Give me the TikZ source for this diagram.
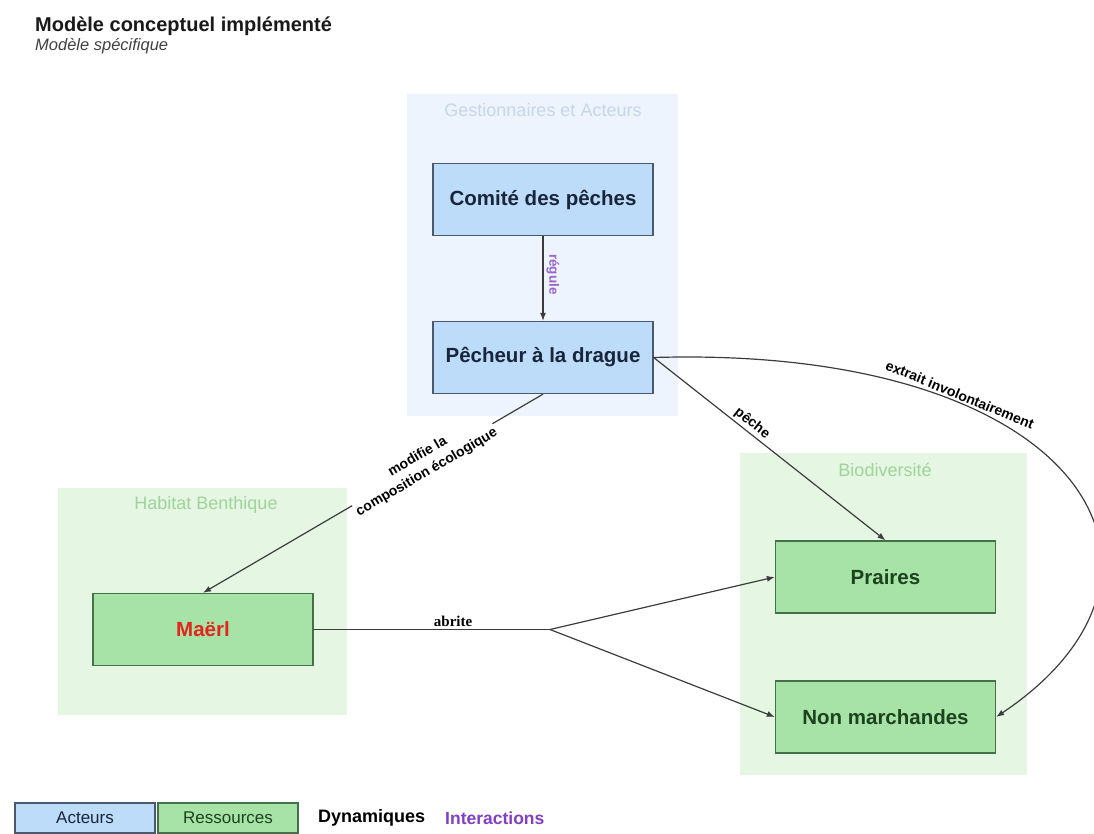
\documentclass[tikz,border=0pt]{standalone}
\usepackage{fontspec}
\setmainfont{Liberation Sans}
\newfontfamily\serifbold{Liberation Serif}
\usetikzlibrary{arrows.meta}

\definecolor{grpblue}{HTML}{EEF4FD}
\definecolor{grpbluetxt}{HTML}{C6D5EA}
\definecolor{grpgreen}{HTML}{E5F6E3}
\definecolor{grpgreentxt}{HTML}{9FD39A}
\definecolor{boxblue}{HTML}{BDDCFA}
\definecolor{boxblueline}{HTML}{4A5870}
\definecolor{boxgreen}{HTML}{A7E3A7}
\definecolor{boxgreenline}{HTML}{44704A}
\definecolor{txtblue}{HTML}{18253A}
\definecolor{txtgreen}{HTML}{1C421E}
\definecolor{linkgray}{HTML}{3C3C3C}
\definecolor{interpurple}{HTML}{8040C0}
\definecolor{maerlred}{HTML}{E3231C}

\begin{document}
\begin{tikzpicture}[x=1pt,y=-1pt,
  acteur/.style={draw=boxblueline, fill=boxblue, line width=1.3pt, text=txtblue,
    minimum width=220, minimum height=72, font=\bfseries\fontsize{20.5}{24}\selectfont},
  ressource/.style={draw=boxgreenline, fill=boxgreen, line width=1.3pt, text=txtgreen,
    minimum width=220, minimum height=72, font=\bfseries\fontsize{20.5}{24}\selectfont},
  groupe/.style={inner sep=0pt},
  grouptitle/.style={font=\fontsize{18}{21}\selectfont},
  link/.style={draw=linkgray, line width=1.2pt, -{Latex[length=8pt,width=6pt]}},
  linklabel/.style={font=\bfseries\fontsize{14}{17}\selectfont, text=black, inner sep=2pt},
  legendbox/.style={line width=1.2pt, minimum width=140, minimum height=30,
    font=\fontsize{17}{20}\selectfont, text=txtblue}]
\useasboundingbox (0,0) rectangle (1094,834);

% titre
\node[anchor=base west, inner sep=0pt, font=\bfseries\fontsize{20}{23}\selectfont, text=black!90] (titre) at (35,32) {Modèle conceptuel implémenté};
\node[anchor=base west, inner sep=0pt, font=\itshape\fontsize{16.5}{19}\selectfont, text=black!75] (soustitre) at (35,51) {Modèle spécifique};

% groupes
\node[groupe, fill=grpblue, minimum width=271, minimum height=322] (gestion) at (542.5,255) {};
\node[grouptitle, text=grpbluetxt] (gestiontitre) at (543,110) {Gestionnaires et Acteurs};
\node[groupe, fill=grpgreen, minimum width=289, minimum height=227] (habitat) at (202.5,601.5) {};
\node[grouptitle, text=grpgreentxt] (habitattitre) at (206,505) {Habitat Benthique};
\node[groupe, fill=grpgreen, minimum width=287, minimum height=322] (biodiv) at (883.5,614) {};
\node[grouptitle, text=grpgreentxt] (biodivtitre) at (885,470) {Biodiversité};

% acteurs et ressources
\node[acteur] (comite) at (543,199.5) {Comité des pêches};
\node[acteur] (pecheur) at (543,357.5) {Pêcheur à la drague};
\node[ressource, text=maerlred] (maerl) at (203,629.5) {Maërl};
\node[ressource] (prairies) at (885.5,577) {Praires};
\node[ressource] (nonmarch) at (885.5,717) {Non marchandes};
\coordinate (split) at (550,629.5);

% liens
\draw[link] (comite) -- (pecheur) node[pos=0.45, xshift=10, rotate=-90, font=\bfseries\fontsize{13.5}{14}\selectfont, text=interpurple!80] (regule) {régule};
\path (pecheur.south) -- (maerl.north) node[pos=0.355, sloped, align=center, linklabel, inner sep=0.5pt] (modifie) {modifie la\\[1pt]composition écologique};
\draw[draw=linkgray, line width=1.2pt] (pecheur.south) -- (modifie); % la ligne passe sous le texte
\draw[link] (modifie) -- (maerl.north);
\draw[link] (pecheur.east) -- (prairies.north) node[pos=0.4, sloped, above, linklabel] (peche) {pêche};
\draw[link] (pecheur.east) .. controls (1080,345) and (1215,570) .. (nonmarch.east) node[pos=0.3, sloped, above, linklabel] (extrait) {extrait involontairement};
\draw[draw=linkgray, line width=1.2pt] (maerl.east) -- (split) node[pos=0.59, above, inner sep=2pt, font=\serifbold\bfseries\fontsize{15}{16}\selectfont] (abrite) {abrite};
\draw[link] (split) -- (prairies.west);
\draw[link] (split) -- (nonmarch.west);

% legende
\node[legendbox, draw=boxblueline, fill=boxblue] (legacteurs) at (85,818) {Acteurs};
\node[legendbox, draw=boxgreenline, fill=boxgreen, text=txtgreen] (legressources) at (228,818) {Ressources};
\node[anchor=west, inner sep=0pt, font=\bfseries\fontsize{18}{20}\selectfont] (legdyn) at (318,818) {Dynamiques};
\node[anchor=west, inner sep=0pt, font=\bfseries\fontsize{17.5}{20}\selectfont, text=interpurple] (leginter) at (445,818) {Interactions};
\end{tikzpicture}
\end{document}
